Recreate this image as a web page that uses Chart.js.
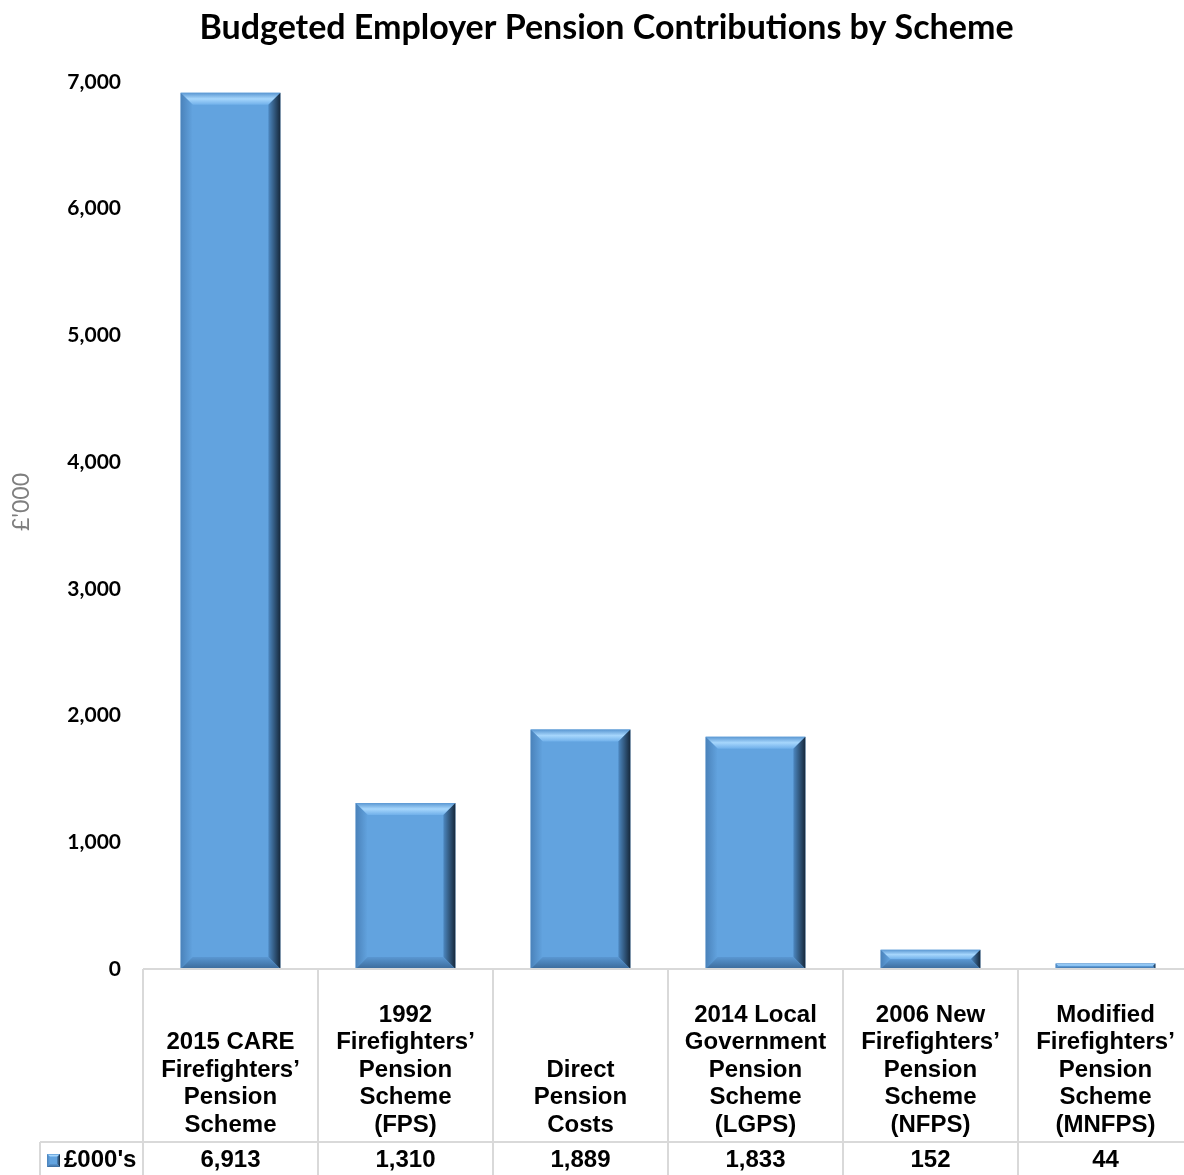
<!DOCTYPE html>
<html>
<head>
<meta charset="utf-8">
<title>Budgeted Employer Pension Contributions by Scheme</title>
<script src="https://cdn.jsdelivr.net/npm/chart.js@4.4.1/dist/chart.umd.min.js"></script>
<style>
  html, body { margin: 0; padding: 0; background: #fff; overflow: hidden; }
  #wrap { width: 1193px; height: 1175px; }
</style>
</head>
<body>
<div id="wrap"><canvas id="pensionChart" width="1193" height="1175"></canvas></div>
<script>
// scheme names, one array entry per printed line
const schemes = [
  ['2015 CARE', 'Firefighters’', 'Pension', 'Scheme'],
  ['1992', 'Firefighters’', 'Pension', 'Scheme', '(FPS)'],
  ['Direct', 'Pension', 'Costs'],
  ['2014 Local', 'Government', 'Pension', 'Scheme', '(LGPS)'],
  ['2006 New', 'Firefighters’', 'Pension', 'Scheme', '(NFPS)'],
  ['Modified', 'Firefighters’', 'Pension', 'Scheme', '(MNFPS)']
];
const contributions = [6913, 1310, 1889, 1833, 152, 44];
const seriesName = "£000's";
const yTickValues = [0, 1000, 2000, 3000, 4000, 5000, 6000, 7000];
const yAxisTitle = "£'000";
const chartTitle = 'Budgeted Employer Pension Contributions by Scheme';

const barBlue = '#62a3df';

function poly(ctx, pts, fill) {
  ctx.beginPath();
  ctx.moveTo(pts[0][0], pts[0][1]);
  for (let i = 1; i < pts.length; i++) ctx.lineTo(pts[i][0], pts[i][1]);
  ctx.closePath();
  ctx.fillStyle = fill;
  ctx.fill();
}

// bevelled edges on top of a flat bar
function drawBevel(ctx, l, t, r, b, size) {
  const d = Math.min(size, (b - t) / 2, (r - l) / 2);
  if (d <= 0) return;
  ctx.save();
  let g = ctx.createLinearGradient(0, t, 0, t + d);
  g.addColorStop(0, '#5a97d2');
  g.addColorStop(0.5, '#a6d6fc');
  g.addColorStop(1, '#70b0ea');
  poly(ctx, [[l, t], [r, t], [r - d, t + d], [l + d, t + d]], g);

  g = ctx.createLinearGradient(l, 0, l + d, 0);
  g.addColorStop(0, '#4a82ba');
  g.addColorStop(1, barBlue);
  poly(ctx, [[l, t], [l + d, t + d], [l + d, b - d], [l, b]], g);

  g = ctx.createLinearGradient(r - d, 0, r, 0);
  g.addColorStop(0, '#4d88c1');
  g.addColorStop(1, '#16283b');
  poly(ctx, [[r, t], [r, b], [r - d, b - d], [r - d, t + d]], g);

  g = ctx.createLinearGradient(0, b - d, 0, b);
  g.addColorStop(0, '#5a97d2');
  g.addColorStop(1, '#3b6a9a');
  poly(ctx, [[l, b], [l + d, b - d], [r - d, b - d], [r, b]], g);
  ctx.restore();
}

const bevelPlugin = {
  id: 'bevel',
  afterDatasetsDraw(chart) {
    const ctx = chart.ctx;
    chart.getDatasetMeta(0).data.forEach(bar => {
      const { x, y, base, width } = bar.getProps(['x', 'y', 'base', 'width'], true);
      drawBevel(ctx, x - width / 2, y, x + width / 2, base, 12);
    });
  }
};

// data table under the plot plus the rotated axis title
const tablePlugin = {
  id: 'dataTable',
  afterDraw(chart) {
    const { ctx, chartArea } = chart;
    const xs = chart.scales.x;
    const colW = xs.getPixelForValue(1) - xs.getPixelForValue(0);
    const top = chartArea.bottom;
    const rowY = top + 173;
    const bottom = chart.height + 4;
    const tableLeft = 40;

    ctx.save();
    ctx.strokeStyle = '#d9d9d9';
    ctx.lineWidth = 2;
    ctx.beginPath();
    ctx.moveTo(chartArea.left, top);
    ctx.lineTo(chartArea.right, top);
    ctx.moveTo(tableLeft, rowY);
    ctx.lineTo(chartArea.right, rowY);
    ctx.moveTo(tableLeft, rowY);
    ctx.lineTo(tableLeft, bottom);
    for (let i = 0; i <= schemes.length; i++) {
      const bx = chartArea.left + i * colW;
      ctx.moveTo(bx, top);
      ctx.lineTo(bx, bottom);
    }
    ctx.stroke();

    ctx.fillStyle = '#000';
    ctx.font = 'bold 24px "Liberation Sans", Arial, sans-serif';
    ctx.textAlign = 'center';
    ctx.textBaseline = 'middle';
    const lineH = 27.5;
    const lastLine = rowY - 17;
    schemes.forEach((lines, i) => {
      const cx = xs.getPixelForValue(i);
      lines.forEach((line, j) => {
        ctx.fillText(line, cx, lastLine - (lines.length - 1 - j) * lineH);
      });
      ctx.fillText(contributions[i].toLocaleString('en-GB'), cx, rowY + 18);
    });

    // legend key and series name
    ctx.fillStyle = barBlue;
    ctx.fillRect(47, rowY + 12, 13, 13);
    drawBevel(ctx, 47, rowY + 12, 60, rowY + 25, 3);
    ctx.fillStyle = '#000';
    ctx.textAlign = 'left';
    ctx.fillText(seriesName, 64, rowY + 18);

    ctx.translate(22, 502);
    ctx.rotate(-Math.PI / 2);
    ctx.textAlign = 'center';
    ctx.fillStyle = '#7f7f7f';
    ctx.font = '23px Lato, "Open Sans", sans-serif';
    ctx.fillText(yAxisTitle, 0, 0);
    ctx.restore();
  }
};

new Chart(document.getElementById('pensionChart'), {
  type: 'bar',
  data: {
    labels: schemes,
    datasets: [{
      label: seriesName,
      data: contributions,
      backgroundColor: barBlue,
      borderWidth: 0,
      categoryPercentage: 1,
      barPercentage: 0.57
    }]
  },
  options: {
    responsive: false,
    animation: false,
    layout: { padding: { left: 20, right: 0, top: 0, bottom: 206 } },
    plugins: {
      legend: { display: false },
      tooltip: { enabled: false },
      title: {
        display: true,
        text: chartTitle,
        color: '#000',
        font: { family: 'Lato', size: 34, weight: 'bold' },
        padding: { top: 8, bottom: 33 }
      }
    },
    scales: {
      x: { display: false },
      y: {
        min: 0,
        max: 7000,
        afterBuildTicks: s => { s.ticks = yTickValues.map(v => ({ value: v })); },
        afterFit: s => { s.width = 123; },
        ticks: {
          color: '#000',
          padding: 22,
          font: { family: 'Lato', size: 21, weight: 'bold' },
          callback: v => v.toLocaleString('en-GB')
        },
        grid: { display: false, drawTicks: false },
        border: { display: false }
      }
    }
  },
  plugins: [bevelPlugin, tablePlugin]
});
</script>
</body>
</html>
